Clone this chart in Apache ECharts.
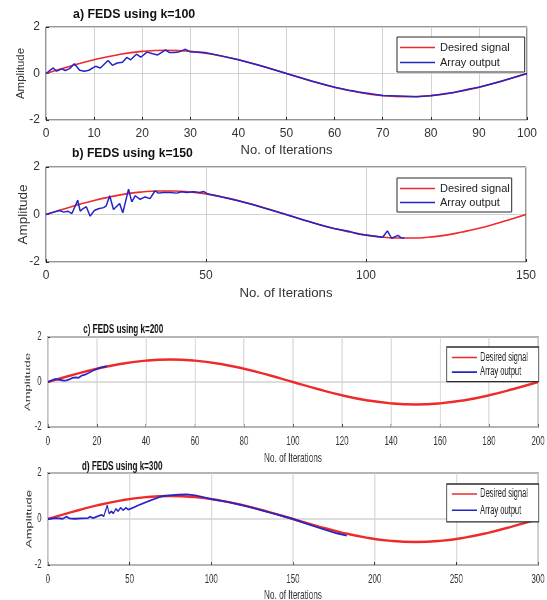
<!DOCTYPE html>
<html>
<head>
<meta charset="utf-8">
<title>FEDS convergence</title>
<script src="https://cdn.jsdelivr.net/npm/echarts@6/dist/echarts.min.js"></script>
<style>
  html, body { margin: 0; padding: 0; background: #ffffff; overflow: hidden; width: 547px; height: 600px; }
  #top { position: absolute; left: 0; top: 0; width: 547px; height: 300px; }
  /* lower figure was exported at a wider size and squeezed horizontally */
  #bottom { position: absolute; left: 0; top: 300px; width: 868px; height: 300px;
            transform: scaleX(0.63); transform-origin: 0 0; }
</style>
</head>
<body>
<div id="top"></div>
<div id="bottom"></div>
<script>
// ---- data: [iteration, amplitude] pairs ----
// a) k = 100
const desiredA = [[0,0],[5,0.31],[10,0.59],[15,0.81],[20,0.95],[25,1.0],[30,0.95],[35,0.81],[40,0.59],[45,0.31],[50,0],[55,-0.31],[60,-0.59],[65,-0.81],[70,-0.95],[75,-1.0],[80,-0.95],[85,-0.81],[90,-0.59],[95,-0.31],[100,0]];
const outputA = [[0,0],[1.5,0.24],[2.2,0.1],[3.3,0.2],[4,0.13],[4.9,0.21],[5.9,0.42],[7,0.14],[8,0.1],[8.9,0.14],[10.3,0.31],[11.3,0.24],[12.9,0.56],[13.8,0.35],[14.8,0.45],[15.9,0.48],[16.8,0.69],[17.6,0.59],[18.8,0.83],[19.7,0.7],[21,0.92],[22.2,0.85],[23.2,0.8],[24.8,1.01],[25.7,0.9],[26.7,0.9],[27.8,0.94],[29,1.04],[29.9,0.94],[33,0.9],[36,0.78],[40,0.59],[45,0.31],[50,0],[55,-0.31],[60,-0.59],[63,-0.72],[64,-0.75],[65,-0.8],[70,-0.95],[75,-0.98],[77,-1.0],[80,-0.96],[85,-0.81],[88,-0.67],[90,-0.59],[95,-0.31],[100,0]];

// b) k = 150
const desiredB = [[0,0],[5,0.21],[10,0.41],[15,0.59],[20,0.74],[25,0.87],[30,0.95],[35,0.99],[40,0.99],[45,0.95],[50,0.87],[55,0.74],[60,0.59],[65,0.41],[70,0.21],[75,0],[80,-0.21],[85,-0.41],[90,-0.59],[95,-0.74],[100,-0.87],[105,-0.95],[110,-0.99],[115,-0.99],[120,-0.95],[125,-0.87],[130,-0.74],[135,-0.59],[140,-0.41],[145,-0.21],[150,0]];
const outputB = [[0,0],[2.4,0.1],[4.3,0.17],[5.5,0.1],[6.8,0.14],[8.1,0.04],[9.9,0.6],[10.7,0.14],[11.5,0.24],[12.6,0.33],[13.8,-0.07],[15.1,0.17],[16.4,0.24],[18,0.29],[18.8,0.36],[19.9,0.79],[21.1,0.21],[23,0.46],[24,0.07],[25.8,1.07],[26.8,0.53],[27.9,0.79],[29.4,0.64],[31,0.74],[32.5,0.67],[34.1,1.0],[35.1,0.9],[36.7,0.93],[38.8,0.93],[40.9,0.9],[42.4,0.96],[44,0.93],[46,0.96],[48.1,0.93],[49.2,0.97],[50.7,0.86],[55,0.74],[60,0.58],[65,0.4],[70,0.2],[75,0],[80,-0.21],[85,-0.41],[90,-0.59],[95,-0.72],[98,-0.83],[100,-0.86],[105.2,-0.96],[106.7,-0.69],[108,-1.0],[110,-0.88],[111,-0.98],[112,-0.99]];

// c) k = 200
const desiredC = [[0,0],[10,0.31],[20,0.59],[30,0.81],[40,0.95],[50,1.0],[60,0.95],[70,0.81],[80,0.59],[90,0.31],[100,0],[110,-0.31],[120,-0.59],[130,-0.81],[140,-0.95],[150,-1.0],[160,-0.95],[170,-0.81],[180,-0.59],[190,-0.31],[200,0]];
const outputC = [[0,0],[2.8,0.13],[4.8,0.1],[6.5,0.06],[7.6,0.07],[9,0.13],[10,0.18],[11.4,0.21],[12.4,0.18],[13.8,0.28],[15.2,0.33],[16.6,0.4],[18.3,0.5],[20,0.58],[22,0.65],[24,0.7]];

// d) k = 300
const desiredD = [[0,0],[15,0.31],[30,0.59],[45,0.81],[60,0.95],[75,1.0],[90,0.95],[105,0.81],[120,0.59],[135,0.31],[150,0],[165,-0.31],[180,-0.59],[195,-0.81],[210,-0.95],[225,-1.0],[240,-0.95],[255,-0.81],[270,-0.59],[285,-0.31],[300,0]];
const outputD = [[0,0],[5.1,0.04],[9.2,0.01],[11.3,0.1],[13.3,0.03],[16.4,0.01],[20.5,0.03],[24.6,0.04],[25.6,0.1],[27.7,0.04],[30.7,0.12],[32.8,0.18],[34.2,0.12],[36.3,0.59],[37.5,0.24],[38.9,0.34],[40,0.24],[41.6,0.44],[43,0.34],[44.5,0.49],[46.1,0.38],[47.7,0.49],[49.2,0.41],[52.3,0.49],[56.4,0.63],[60.5,0.74],[64.5,0.85],[68.6,0.96],[70.7,1.0],[75,1.03],[80,1.06],[85,1.07],[90,1.03],[95,0.95],[100,0.86],[110,0.74],[120,0.58],[130,0.4],[140,0.2],[150,0],[160,-0.24],[166.6,-0.4],[176.7,-0.62],[183,-0.72]];

const titles = ['a) FEDS using k=100', 'b) FEDS using k=150', 'c) FEDS using k=200', 'd) FEDS using k=300'];
const xMax = [100, 150, 200, 300];
const xStep = [10, 50, 20, 50];
const yTicks = [-2, 0, 2];
const seriesNames = ['Desired signal', 'Array output'];
const xName = 'No. of Iterations';
const yName = 'Amplitude';

const desired = [desiredA, desiredB, desiredC, desiredD];
const output = [outputA, outputB, outputC, outputD];

// ---- panel layout (c and d are laid out in the wider, squeezed canvas) ----
const SANS = 'Liberation Sans, Arial, Helvetica, sans-serif';
const panels = [
  { grid: { left: 46, top: 27, width: 481, height: 93 }, frame: 1, gridW: 1, red: 1.6, blue: 1.5,
    tick: 12, xName: 13, yName: 11.5, yGap: 19.5, xGap: 23.5, yLabelGap: 6,
    title: { left: 73, top: 9, size: 12.4 },
    legend: { left: 397, top: 37, size: 11, lh: 13, gap: 2, iw: 35, pad: [4, 15, 3, 3] } },
  { grid: { left: 46, top: 167, width: 480, height: 95 }, frame: 1, gridW: 1, red: 1.6, blue: 1.5,
    tick: 12, xName: 13.2, yName: 13.5, yGap: 16, xGap: 24.5, yLabelGap: 6,
    title: { left: 72, top: 148, size: 12.2 },
    legend: { left: 397, top: 178, size: 11, lh: 13, gap: 1, iw: 35, pad: [4, 2, 3, 3] } },
  { grid: { left: 76, top: 37, width: 778, height: 90 }, frame: 1.3, gridW: 1.5, red: 2.4, blue: 1.8,
    tick: 12.5, xName: 13, yName: 13, yGap: 25, xGap: 24.5, yLabelGap: 10,
    title: { left: 132, top: 22.5, size: 12.9 },
    legend: { left: 709, top: 47, size: 12, lh: 14, gap: 0.6, iw: 40, pad: [3.5, 17, 2.5, 8] } },
  { grid: { left: 76, top: 173, width: 778, height: 92 }, frame: 1.3, gridW: 1.5, red: 2.4, blue: 1.8,
    tick: 12.5, xName: 13, yName: 13, yGap: 23.5, xGap: 23.5, yLabelGap: 10,
    title: { left: 130, top: 159.5, size: 12.9 },
    legend: { left: 709, top: 184, size: 12, lh: 14, gap: 2.3, iw: 40, pad: [3, 17, 4.5, 8] } }
];

const RED = '#ee2a2a';
const BLUE = '#2424c8';
const GRIDLINE = '#d2d2d2';
const FRAME = '#2b2b2b';

function buildOption(indices) {
  const option = {
    backgroundColor: '#ffffff',
    animation: false,
    title: [], grid: [], xAxis: [], yAxis: [], legend: [], series: []
  };
  indices.forEach((i, k) => {
    const p = panels[i];
    option.title.push({
      text: titles[i], left: p.title.left, top: p.title.top, padding: 0,
      textStyle: { fontFamily: SANS, fontWeight: 'bold', fontSize: p.title.size, color: '#111' }
    });
    option.grid.push(Object.assign({
      show: true, backgroundColor: '#ffffff', borderColor: FRAME, borderWidth: p.frame,
      containLabel: false, outerBoundsMode: 'none'
    }, p.grid));
    option.xAxis.push({
      type: 'value', gridIndex: k, min: 0, max: xMax[i], interval: xStep[i],
      name: xName, nameLocation: 'middle', nameGap: p.xGap, nameMoveOverlap: false,
      nameTextStyle: { fontFamily: SANS, fontSize: p.xName, color: '#333' },
      axisLine: { show: false, onZero: false },
      axisTick: { show: true, inside: true, length: 3, lineStyle: { color: FRAME } },
      axisLabel: { fontFamily: SANS, fontSize: p.tick, color: '#333', margin: 8 },
      splitLine: { show: true, lineStyle: { color: GRIDLINE, width: p.gridW } }
    });
    option.yAxis.push({
      type: 'value', gridIndex: k, min: yTicks[0], max: yTicks[yTicks.length - 1], interval: 2,
      name: yName, nameLocation: 'middle', nameGap: p.yGap, nameRotate: 90, nameMoveOverlap: false,
      nameTextStyle: { fontFamily: SANS, fontSize: p.yName, color: '#333' },
      axisLine: { show: false, onZero: false },
      axisTick: { show: true, inside: true, length: 3, lineStyle: { color: FRAME } },
      axisLabel: { fontFamily: SANS, fontSize: p.tick, color: '#333', margin: p.yLabelGap },
      splitLine: { show: true, lineStyle: { color: GRIDLINE, width: p.gridW } }
    });
    option.legend.push({
      orient: 'vertical', left: p.legend.left, top: p.legend.top,
      data: seriesNames, selectedMode: false,
      icon: 'rect', itemWidth: p.legend.iw, itemHeight: 1.6, itemGap: p.legend.gap,
      padding: p.legend.pad,
      backgroundColor: '#ffffff', borderColor: FRAME, borderWidth: p.frame,
      textStyle: { fontFamily: SANS, fontSize: p.legend.size, lineHeight: p.legend.lh, color: '#222' }
    });
    option.series.push({
      name: seriesNames[0], type: 'line', xAxisIndex: k, yAxisIndex: k,
      data: desired[i], smooth: true, showSymbol: false,
      lineStyle: { color: RED, width: p.red }, itemStyle: { color: RED }, z: 2
    });
    option.series.push({
      name: seriesNames[1], type: 'line', xAxisIndex: k, yAxisIndex: k,
      data: output[i], showSymbol: false,
      lineStyle: { color: BLUE, width: p.blue }, itemStyle: { color: BLUE }, z: 3
    });
  });
  return option;
}

echarts.init(document.getElementById('top'), null, { renderer: 'canvas' }).setOption(buildOption([0, 1]));
echarts.init(document.getElementById('bottom'), null, { renderer: 'canvas' }).setOption(buildOption([2, 3]));
</script>
</body>
</html>
